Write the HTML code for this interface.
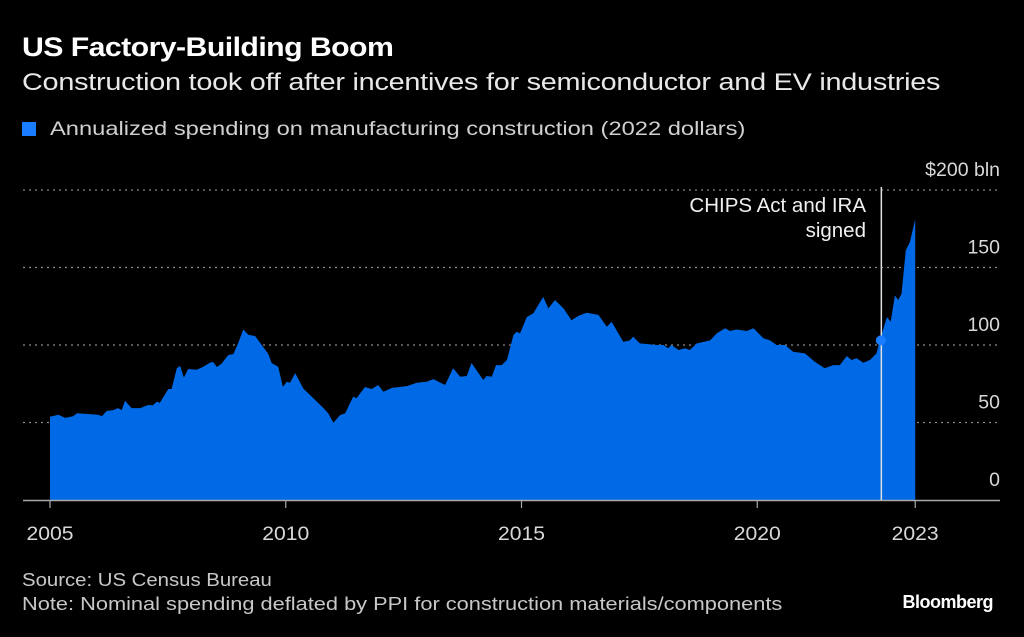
<!DOCTYPE html>
<html><head><meta charset="utf-8"><style>
html,body{margin:0;padding:0;background:#000;}
body{width:1024px;height:637px;position:relative;overflow:hidden;font-family:"Liberation Sans",sans-serif;color:#fff;}
.t{position:absolute;white-space:nowrap;transform-origin:0 0;}
</style></head><body>
<div class="t" style="left:22px;top:32px;font-size:27px;font-weight:bold;letter-spacing:-0.5px;transform:scaleX(1.12);">US Factory-Building Boom</div>
<div class="t" style="left:22px;top:69px;font-size:24px;color:#e8e8e8;letter-spacing:-0.2px;transform:scaleX(1.2);">Construction took off after incentives for semiconductor and EV industries</div>
<div class="t" style="left:22px;top:118px;font-size:19.5px;color:#d0d0d0;"><span style="display:inline-block;width:14px;height:14px;background:#1a7cff;margin-right:14px;vertical-align:-1px;"></span><span style="display:inline-block;transform:scaleX(1.215);transform-origin:0 0;">Annualized spending on manufacturing construction (2022 dollars)</span></div>
<svg id="chart" width="1024" height="637" style="position:absolute;left:0;top:0;"></svg>
<div class="t" style="left:22px;top:570px;font-size:18px;color:#c8c8c8;transform:scaleX(1.13);">Source: US Census Bureau</div>
<div class="t" style="left:22px;top:594px;font-size:18px;color:#c8c8c8;transform:scaleX(1.21);">Note: Nominal spending deflated by PPI for construction materials/components</div>
<div class="t" style="right:31px;top:592px;font-size:18px;font-weight:bold;letter-spacing:-0.5px;">Bloomberg</div>
<script>
const dates=[2005.00,2005.18,2005.32,2005.49,2005.57,2006.02,2006.10,2006.20,2006.34,2006.44,2006.52,2006.59,2006.73,2006.91,2007.08,2007.18,2007.26,2007.33,2007.51,2007.58,2007.69,2007.76,2007.84,2007.93,2008.11,2008.24,2008.39,2008.46,2008.54,2008.64,2008.78,2008.89,2008.99,2009.10,2009.21,2009.35,2009.49,2009.63,2009.70,2009.84,2009.94,2010.02,2010.09,2010.20,2010.37,2010.80,2010.90,2011.01,2011.15,2011.26,2011.43,2011.50,2011.68,2011.82,2011.96,2012.07,2012.25,2012.57,2012.78,2012.99,2013.13,2013.38,2013.55,2013.70,2013.84,2013.94,2014.19,2014.26,2014.37,2014.46,2014.58,2014.69,2014.83,2014.90,2014.97,2015.11,2015.25,2015.46,2015.57,2015.71,2015.89,2016.06,2016.20,2016.38,2016.63,2016.81,2016.91,2017.16,2017.30,2017.37,2017.51,2017.87,2018.01,2018.11,2018.18,2018.33,2018.47,2018.57,2018.72,2019.00,2019.14,2019.32,2019.42,2019.56,2019.78,2019.92,2020.13,2020.27,2020.41,2020.59,2020.76,2021.01,2021.22,2021.43,2021.61,2021.75,2021.90,2022.00,2022.11,2022.25,2022.39,2022.53,2022.60,2022.75,2022.83,2022.92,2022.99,2023.06,2023.15,2023.24,2023.35];
const values=[53.7,55,53,54,56,55,54,57.4,58,59.3,58,64,59.3,59.3,61.3,61,63.4,62.8,71.6,71.6,85,86.5,79,84.5,84,85.8,88.6,89,85.8,88,93.5,94.2,101,110,106.5,105.8,100,94.2,88.4,86,73,76.3,75.7,81.9,72,59.3,56,49.9,54.8,56,66.7,65.6,72.9,71.6,74.2,69.9,72.3,73.5,75.7,76.3,78,74.2,85,79.5,80,88.4,77.4,80,79.5,87,87,90.3,106.5,108.6,107.5,118,120.4,131,123.6,129,123.6,116,118.7,120.8,119.4,111.8,115,102,103,105.4,101,100,100,97.9,100,96.8,97.9,96.8,101,103,107.5,110.8,109,110,109,110.8,104.3,103,100,100,95.7,94.6,89.2,85,87,87,92.9,90.3,91.4,88.6,90.3,94.6,103,118,115,132,129,133,161,166.6,181];
const yTicks=[0,50,100,150,200];
const yTickLabels=["0","50","100","150","$200 bln"];
const xTicks=[2005,2010,2015,2020,2023.35];
const xTickLabels=["2005","2010","2015","2020","2023"];
const eventDate=2022.6;
const eventValue=103;

const NS="http://www.w3.org/2000/svg";
const svg=document.getElementById('chart');
const X=d=>50+(d-2005)*47.15;
const Y=v=>500-v*1.55;
function mk(tag,attrs){const e=document.createElementNS(NS,tag);for(const k in attrs)e.setAttribute(k,attrs[k]);svg.appendChild(e);return e;}

yTicks.forEach((t,i)=>{
  if(t>0){const g=mk('line',{x1:23,x2:1000,y1:Y(t),y2:Y(t),stroke:'#8a8a8a','stroke-width':1.2,'stroke-dasharray':'2,4'});
  
  }
  const l=mk('text',{x:1000,y:Y(t)-14,'text-anchor':'end',fill:'#d8d8d8','font-size':19.5,'font-family':'Liberation Sans, sans-serif'});
  l.textContent=yTickLabels[i];
  
  
});

let d='M'+X(dates[0])+','+Y(0);
dates.forEach((dt,i)=>{d+=' L'+X(dt).toFixed(1)+','+Y(values[i]).toFixed(1);});
d+=' L'+X(dates[dates.length-1])+','+Y(0)+' Z';
const area=mk('path',{d:d,fill:'#006ae6'});



const ax=mk('line',{x1:23,x2:1000,y1:500.5,y2:500.5,stroke:'#aaaaaa','stroke-width':1.5});


xTicks.forEach((t,i)=>{
  const tk=mk('line',{x1:X(t),x2:X(t),y1:500,y2:508,stroke:'#aaaaaa','stroke-width':1.2});
  
  
  const l=mk('text',{x:X(t),y:540,'text-anchor':'middle',fill:'#d8d8d8','font-size':19,'font-family':'Liberation Sans, sans-serif',textLength:47,lengthAdjust:'spacingAndGlyphs'});
  l.textContent=xTickLabels[i];
  
  
});

const ev=mk('line',{x1:X(eventDate)+1.5,x2:X(eventDate)+1.5,y1:187,y2:500,stroke:'#e0e0e0','stroke-width':1.5});


const dot=mk('circle',{cx:X(eventDate)+1,cy:Y(eventValue),r:5,fill:'#1a7cff'});


const a1=mk('text',{x:866,y:212,'text-anchor':'end',fill:'#f0f0f0','font-size':20.5,'font-family':'Liberation Sans, sans-serif'});
a1.textContent='CHIPS Act and IRA';


const a2=mk('text',{x:866,y:237,'text-anchor':'end',fill:'#f0f0f0','font-size':20.5,'font-family':'Liberation Sans, sans-serif'});
a2.textContent='signed';


</script>
</body></html>
